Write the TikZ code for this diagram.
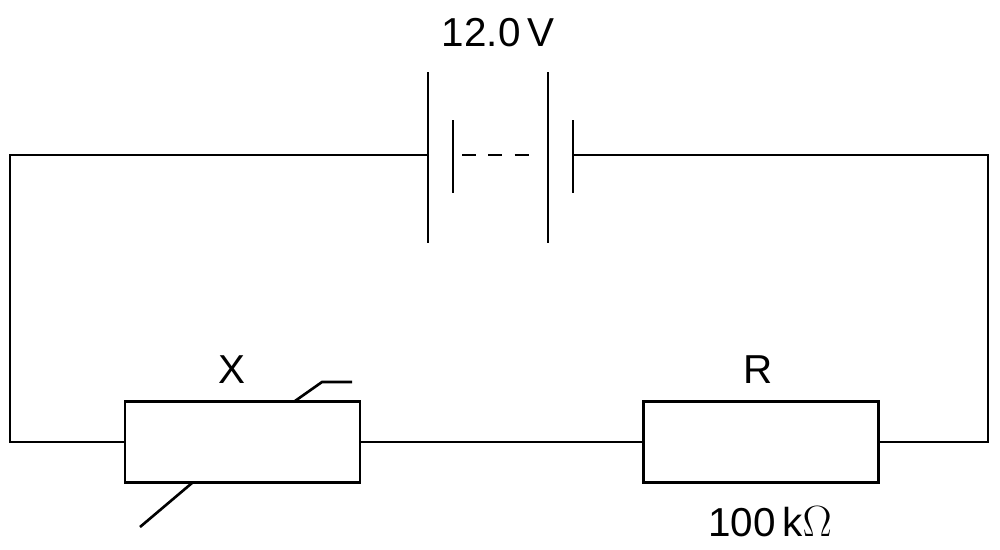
\documentclass[tikz,border=0pt]{standalone}
\usepackage{fontspec}
\setmainfont{Liberation Sans}
\begin{document}
\begin{tikzpicture}[x=0.02cm, y=-0.02cm, line width=1.5pt,
  res/.style = {draw, rectangle, line width=1.5pt, minimum width=4.7cm, minimum height=1.62cm, inner sep=0pt},
  lbl/.style = {font=\fontsize{23}{26}\selectfont, inner sep=0pt}]
\useasboundingbox (0,0) rectangle (1000,549);
% corners and battery plates
\coordinate (tl) at (10,155);
\coordinate (tr) at (988,155);
\coordinate (bl) at (10,442);
\coordinate (br) at (988,442);
\coordinate (p1) at (428,155);
\coordinate (p4) at (573,155);
\node[res] (X) at (242.5,442) {};
\node[res] (R) at (761,442) {};
% battery
\draw (428,72) -- (428,243);
\draw (453,120) -- (453,193);
\draw (548,72) -- (548,243);
\draw (573,120) -- (573,193);
\draw[dash pattern=on 8pt off 7pt] (462,155) -- (541,155);
% wires
\draw (p1) -- (tl) -- (bl) -- (X.west);
\draw (X.east) -- (R.west);
\draw (R.east) -- (br) -- (tr) -- (p4);
% thermistor mark
\draw (140,527) -- (192,483);
\draw (295,401) -- (322,382) -- (352,382);
% labels
\node[lbl] (v) at (498,33) {12.0\,V};
\node[lbl] (lx) at (232,370) {X};
\node[lbl] (lr) at (758,370) {R};
\node[lbl] (lk) at (770,522) {100\,k$\Omega$};
\end{tikzpicture}
\end{document}
